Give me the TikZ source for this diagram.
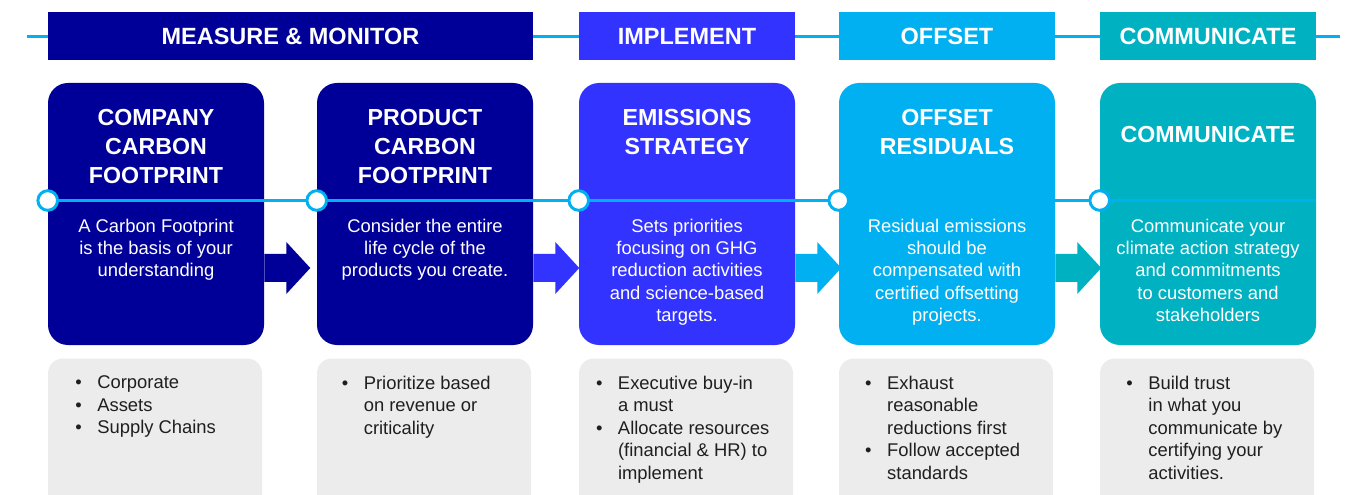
\documentclass[tikz,border=0pt]{standalone}
\usepackage{fontspec}
\setmainfont{Liberation Sans}
\usetikzlibrary{positioning,calc}
\definecolor{navy}{HTML}{000099}
\definecolor{implblue}{HTML}{3333FF}
\definecolor{offcyan}{HTML}{00B0F0}
\definecolor{commteal}{HTML}{00B2C1}
\definecolor{panelgray}{HTML}{ECECEC}
\tikzset{
  banner/.style={minimum height=36pt,inner sep=0pt,text=white,
    font=\fontsize{17.6}{21}\selectfont\bfseries},
  stagebox/.style={rounded corners=15pt,minimum width=162pt,
    minimum height=196.5pt,inner sep=0pt},
  stagettl/.style={anchor=north,align=center,inner sep=0pt,text=white,
    font=\fontsize{17.4}{21.75}\selectfont\bfseries},
  stagetxt/.style={anchor=north,align=center,inner sep=0pt,text=white,
    font=\fontsize{13.8}{16.7}\selectfont},
  notebox/.style={fill=panelgray,rounded corners=11pt,minimum width=160.5pt,
    minimum height=120pt,inner sep=0pt,anchor=north west},
  notetxt/.style={anchor=north west,align=left,inner sep=0pt,text=black!88,
    font=\fontsize{13.8}{16.9}\selectfont},
  tline/.style={draw=offcyan,line width=2pt},
  knot/.style={circle,draw=offcyan,fill=white,line width=2.2pt,
    minimum size=14.7pt,inner sep=0pt},
}
\newcommand{\bul}{\makebox[16.5pt][l]{\textbullet}}
\newcommand{\ind}{\hspace*{16.5pt}}

\begin{document}
\begin{tikzpicture}[x=0.75pt,y=-0.75pt]
  \clip (0,0) rectangle (1345,495);
  % phase banners on the top line
  \coordinate (topl) at (27,36.5);
  \coordinate (topr) at (1340,36.5);
  \draw[tline] (topl) -- (topr);
  \node[banner,fill=navy,minimum width=363.75pt] (p1) at (290.5,36) {MEASURE \& MONITOR};
  \node[banner,fill=implblue,minimum width=162pt] (p2) at (687,36) {IMPLEMENT};
  \node[banner,fill=offcyan,minimum width=162pt] (p3) at (947,36) {OFFSET};
  \node[banner,fill=commteal,minimum width=162pt] (p4) at (1208,36) {COMMUNICATE};

  \foreach \n/\x/\col in {1/156/navy,2/425/navy,3/687/implblue,4/947/offcyan,5/1208/commteal}
    \node[stagebox,fill=\col] (b\n) at (\x,214) {};

  \foreach \a/\col in {b1/navy,b2/implblue,b3/offcyan,b4/commteal}
    \fill[\col] ($(\a.east)+(0,40)$) -- ++(22,0) -- ++(0,-12) -- ++(24,26)
      -- ++(-24,26) -- ++(0,-12) -- ++(-22,0) -- cycle;

  % time line through the stages
  \coordinate (mid) at (0,200.5);
  \draw[tline] (b1.west |- mid) -- (b5.east |- mid);
  \foreach \n in {1,...,5}
    \node[knot] (c\n) at (b\n.west |- mid) {};

  \node[stagettl] (t1) at ($(b1.north)+(0,26)$) {COMPANY\\CARBON\\FOOTPRINT};
  \node[stagettl] (t2) at ($(b2.north)+(0,26)$) {PRODUCT\\CARBON\\FOOTPRINT};
  \node[stagettl] (t3) at ($(b3.north)+(0,26)$) {EMISSIONS\\STRATEGY};
  \node[stagettl] (t4) at ($(b4.north)+(0,26)$) {OFFSET\\RESIDUALS};
  \node[stagettl] (t5) at ($(b5.north)+(0,43)$) {COMMUNICATE};

  \node[stagetxt] (d1) at ($(b1.north)+(0,136)$) {A Carbon Footprint\\is the basis of your\\understanding};
  \node[stagetxt] (d2) at ($(b2.north)+(0,136)$) {Consider the entire\\life cycle of the\\products you create.};
  \node[stagetxt] (d3) at ($(b3.north)+(0,136)$) {Sets priorities\\focusing on GHG\\reduction activities\\and science-based\\targets.};
  \node[stagetxt] (d4) at ($(b4.north)+(0,136)$) {Residual emissions\\should be\\compensated with\\certified offsetting\\projects.};
  \node[stagetxt] (d5) at ($(b5.north)+(0,136)$) {Communicate your\\climate action strategy\\and commitments\\to customers and\\stakeholders};

  % grey notes
  \foreach \n in {1,...,5}
    \node[notebox] (n\n) at ($(b\n.south west)+(0,13)$) {};
  \node[notetxt] (l1) at ($(n1.north west)+(27.3,17.5)$) {\bul Corporate\\\bul Assets\\\bul Supply Chains};
  \node[notetxt] (l2) at ($(n2.north west)+(24.8,17.5)$) {\bul Prioritize based\\\ind on revenue or\\\ind criticality};
  \node[notetxt] (l3) at ($(n3.north west)+(17,17.5)$) {\bul Executive buy-in\\\ind a must\\\bul Allocate resources\\\ind (financial \& HR) to\\\ind implement};
  \node[notetxt] (l4) at ($(n4.north west)+(26.2,17.5)$) {\bul Exhaust\\\ind reasonable\\\ind reductions first\\\bul Follow accepted\\\ind standards};
  \node[notetxt] (l5) at ($(n5.north west)+(26.4,17.5)$) {\bul Build trust\\\ind in what you\\\ind communicate by\\\ind certifying your\\\ind activities.};
\end{tikzpicture}
\end{document}
